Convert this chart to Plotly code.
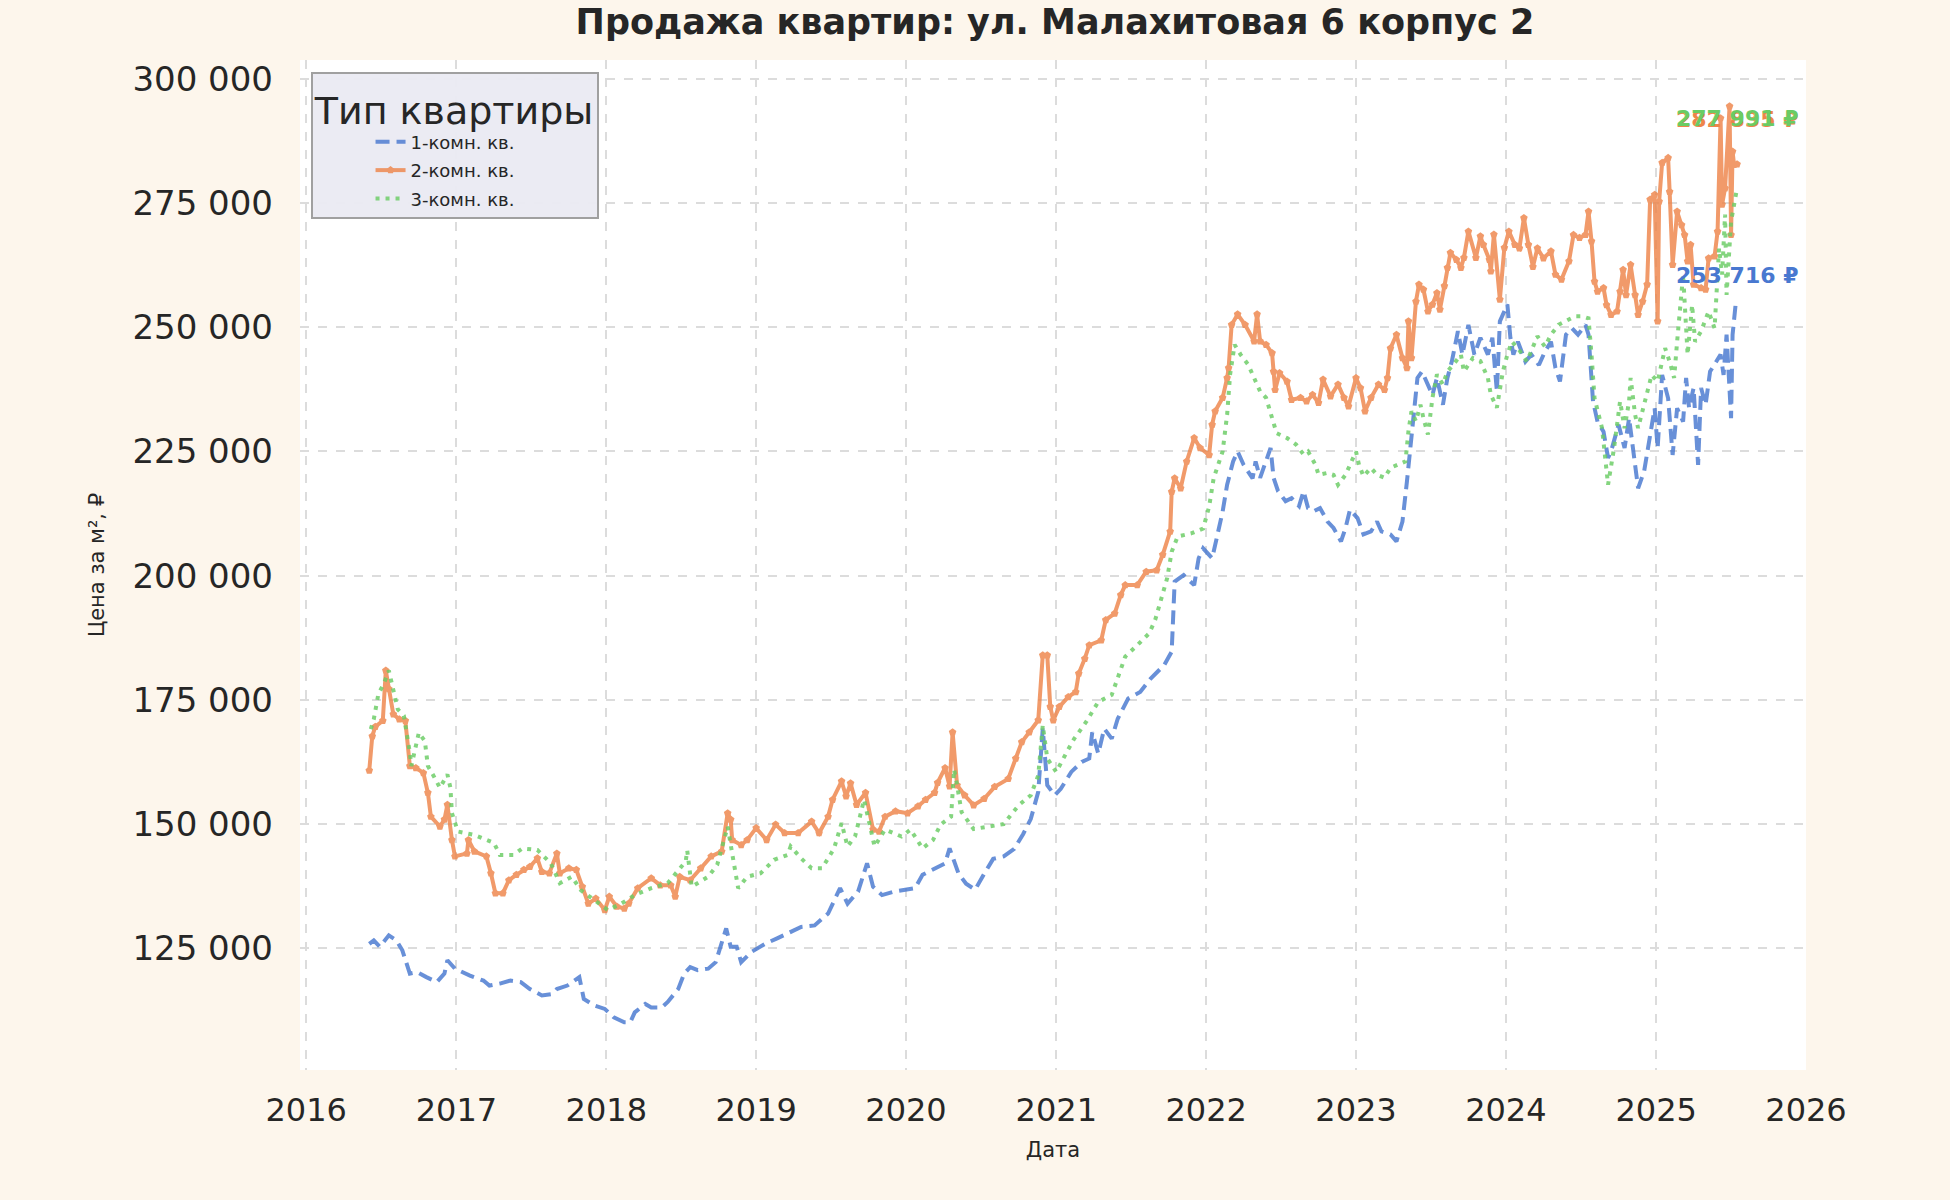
from datetime import datetime
import plotly.graph_objects as go

# Values: decimal year -> price per m2 (thousands of rubles)
years_1k = [2016.42, 2016.45, 2016.49, 2016.52, 2016.55, 2016.60, 2016.64, 2016.69, 2016.74, 2016.80,
            2016.87, 2016.92, 2016.94, 2016.99, 2017.09, 2017.18, 2017.22, 2017.29, 2017.36, 2017.43,
            2017.49, 2017.57, 2017.64, 2017.67, 2017.74, 2017.82, 2017.85, 2017.92, 2017.99, 2018.05,
            2018.12, 2018.16, 2018.19, 2018.26, 2018.30, 2018.37, 2018.41, 2018.48, 2018.52, 2018.56,
            2018.61, 2018.68, 2018.73, 2018.80, 2018.83, 2018.87, 2018.90, 2018.97, 2019.06, 2019.14,
            2019.21, 2019.30, 2019.39, 2019.48, 2019.56, 2019.61, 2019.68, 2019.74, 2019.78, 2019.84,
            2019.92, 2020.00, 2020.06, 2020.11, 2020.18, 2020.26, 2020.29, 2020.35, 2020.40, 2020.46,
            2020.52, 2020.58, 2020.65, 2020.72, 2020.78, 2020.83, 2020.88, 2020.91, 2020.94, 2020.99,
            2021.03, 2021.10, 2021.17, 2021.22, 2021.24, 2021.28, 2021.32, 2021.37, 2021.41, 2021.48,
            2021.56, 2021.63, 2021.72, 2021.77, 2021.79, 2021.85, 2021.92, 2021.95, 2021.98, 2022.04,
            2022.07, 2022.11, 2022.14, 2022.18, 2022.21, 2022.25, 2022.31, 2022.33, 2022.36, 2022.39,
            2022.43, 2022.45, 2022.48, 2022.53, 2022.57, 2022.62, 2022.65, 2022.68, 2022.72, 2022.76,
            2022.81, 2022.85, 2022.90, 2022.93, 2022.96, 2023.01, 2023.05, 2023.10, 2023.14, 2023.17,
            2023.23, 2023.27, 2023.31, 2023.34, 2023.36, 2023.39, 2023.41, 2023.44, 2023.48, 2023.51,
            2023.54, 2023.58, 2023.61, 2023.64, 2023.68, 2023.71, 2023.75, 2023.79, 2023.83, 2023.88,
            2023.91, 2023.94, 2023.96, 2024.01, 2024.03, 2024.05, 2024.08, 2024.13, 2024.17, 2024.22,
            2024.26, 2024.30, 2024.33, 2024.36, 2024.40, 2024.44, 2024.48, 2024.53, 2024.55, 2024.58,
            2024.61, 2024.65, 2024.68, 2024.70, 2024.75, 2024.79, 2024.82, 2024.86, 2024.88, 2024.92,
            2024.96, 2024.99, 2025.01, 2025.04, 2025.08, 2025.11, 2025.14, 2025.18, 2025.20, 2025.22,
            2025.25, 2025.28, 2025.30, 2025.33, 2025.36, 2025.40, 2025.43, 2025.45, 2025.47, 2025.50,
            2025.51, 2025.53, 2025.54]
price_1k = [125.9, 126.6, 125.3, 126.3, 127.6, 126.6, 124.6, 119.9, 120.2, 119.2,
            118.2, 119.9, 122.6, 120.9, 119.5, 118.5, 117.5, 117.9, 118.5, 118.2,
            116.8, 115.5, 115.8, 116.8, 117.5, 119.2, 114.8, 113.5, 112.8, 111.1,
            110.1, 110.1, 112.1, 113.8, 113.1, 113.1, 114.2, 116.8, 119.9, 121.2,
            120.6, 120.9, 122.2, 129.0, 125.3, 125.3, 122.2, 124.3, 125.9, 127.0,
            128.0, 129.3, 129.6, 132.0, 137.1, 134.0, 136.4, 142.1, 137.4, 135.7,
            136.4, 136.7, 137.1, 139.8, 140.8, 142.1, 145.1, 140.0, 138.0, 136.8,
            140.0, 143.0, 143.5, 145.0, 148.0, 151.0, 156.5, 169.2, 157.8, 155.8,
            157.1, 160.5, 162.5, 163.2, 168.5, 164.2, 169.2, 167.2, 171.2, 175.3,
            176.6, 179.3, 182.0, 184.7, 198.8, 200.1, 198.1, 203.5, 205.5, 203.5,
            207.5, 212.9, 218.3, 223.0, 225.0, 222.3, 219.6, 223.0, 219.7, 222.3,
            225.7, 219.7, 217.0, 215.0, 215.6, 214.0, 217.0, 213.6, 213.0, 213.6,
            210.9, 209.6, 206.9, 209.6, 213.3, 211.6, 208.3, 208.9, 210.9, 208.9,
            208.3, 206.9, 210.9, 219.0, 225.0, 232.4, 239.8, 241.1, 238.5, 236.4,
            239.8, 234.4, 239.8, 243.2, 249.2, 244.5, 250.5, 244.5, 247.9, 244.5,
            247.9, 237.1, 251.2, 254.6, 247.9, 244.5, 247.1, 243.1, 244.5, 242.4,
            245.1, 247.1, 241.8, 239.1, 248.5, 249.8, 248.5, 250.5, 248.5, 235.1,
            231.0, 229.0, 223.7, 225.0, 230.4, 225.7, 231.7, 221.6, 217.6, 221.0,
            229.0, 233.7, 225.7, 240.4, 235.7, 224.3, 233.7, 231.0, 239.8, 233.7,
            237.8, 222.3, 237.8, 234.4, 241.1, 243.1, 244.5, 240.4, 248.5, 231.7,
            248.5, 254.5, 253.716]

years_2k = [2016.42, 2016.44, 2016.46, 2016.51, 2016.53, 2016.55, 2016.58, 2016.62, 2016.66, 2016.69,
            2016.73, 2016.78, 2016.81, 2016.83, 2016.89, 2016.92, 2016.94, 2016.97, 2016.99, 2017.07,
            2017.08, 2017.12, 2017.20, 2017.23, 2017.26, 2017.31, 2017.35, 2017.40, 2017.45, 2017.49,
            2017.54, 2017.57, 2017.62, 2017.67, 2017.69, 2017.75, 2017.80, 2017.84, 2017.88, 2017.93,
            2017.99, 2018.02, 2018.07, 2018.12, 2018.15, 2018.21, 2018.30, 2018.36, 2018.43, 2018.46,
            2018.49, 2018.56, 2018.63, 2018.70, 2018.77, 2018.81, 2018.83, 2018.84, 2018.90, 2018.94,
            2019.00, 2019.07, 2019.13, 2019.19, 2019.28, 2019.37, 2019.42, 2019.48, 2019.51, 2019.57,
            2019.60, 2019.63, 2019.67, 2019.73, 2019.78, 2019.82, 2019.86, 2019.93, 2020.01, 2020.08,
            2020.13, 2020.19, 2020.21, 2020.26, 2020.29, 2020.31, 2020.34, 2020.39, 2020.45, 2020.52,
            2020.59, 2020.68, 2020.73, 2020.77, 2020.82, 2020.88, 2020.91, 2020.94, 2020.96, 2020.98,
            2021.02, 2021.08, 2021.13, 2021.15, 2021.19, 2021.22, 2021.30, 2021.33, 2021.39, 2021.43,
            2021.46, 2021.54, 2021.60, 2021.67, 2021.71, 2021.76, 2021.77, 2021.79, 2021.83, 2021.87,
            2021.92, 2021.96, 2022.02, 2022.04, 2022.06, 2022.11, 2022.14, 2022.15, 2022.17, 2022.21,
            2022.26, 2022.32, 2022.34, 2022.36, 2022.40, 2022.44, 2022.45, 2022.46, 2022.49, 2022.54,
            2022.57, 2022.63, 2022.67, 2022.71, 2022.75, 2022.78, 2022.83, 2022.88, 2022.92, 2022.95,
            2023.00, 2023.03, 2023.06, 2023.10, 2023.15, 2023.19, 2023.21, 2023.23, 2023.27, 2023.31,
            2023.34, 2023.35, 2023.37, 2023.40, 2023.42, 2023.45, 2023.48, 2023.51, 2023.54, 2023.56,
            2023.59, 2023.61, 2023.63, 2023.67, 2023.70, 2023.72, 2023.75, 2023.80, 2023.83, 2023.85,
            2023.89, 2023.90, 2023.92, 2023.96, 2023.99, 2024.02, 2024.06, 2024.09, 2024.12, 2024.15,
            2024.18, 2024.21, 2024.25, 2024.30, 2024.33, 2024.37, 2024.42, 2024.45, 2024.49, 2024.53,
            2024.55, 2024.57, 2024.59, 2024.61, 2024.65, 2024.67, 2024.70, 2024.74, 2024.76, 2024.78,
            2024.80, 2024.83, 2024.86, 2024.88, 2024.91, 2024.94, 2024.96, 2024.99, 2025.01, 2025.02,
            2025.04, 2025.08, 2025.09, 2025.11, 2025.14, 2025.17, 2025.19, 2025.21, 2025.23, 2025.25,
            2025.30, 2025.33, 2025.35, 2025.39, 2025.41, 2025.43, 2025.44, 2025.46, 2025.49, 2025.50,
            2025.51, 2025.52, 2025.54]
price_2k = [160.8, 167.7, 169.6, 170.8, 180.9, 177.2, 172.1, 171.1, 170.8, 161.7,
            161.3, 160.3, 156.3, 151.5, 149.5, 150.9, 153.9, 146.8, 143.5, 144.1,
            146.8, 144.5, 143.5, 140.1, 136.1, 136.1, 138.7, 139.8, 140.8, 141.4,
            143.1, 140.4, 140.1, 144.1, 140.1, 141.1, 140.8, 137.4, 134.0, 135.0,
            132.7, 135.4, 133.4, 133.0, 134.0, 137.1, 139.1, 137.7, 137.7, 135.4,
            139.4, 138.7, 141.1, 143.5, 144.5, 152.2, 150.9, 146.8, 145.8, 146.8,
            149.2, 146.8, 149.9, 148.2, 148.2, 150.5, 148.2, 151.5, 154.9, 158.6,
            155.6, 158.2, 153.9, 156.3, 148.9, 148.5, 151.5, 152.6, 152.2, 153.6,
            154.9, 156.3, 158.3, 161.3, 157.6, 168.5, 157.8, 155.8, 153.8, 155.1,
            157.5, 159.1, 163.2, 166.5, 168.5, 170.9, 184.0, 184.0, 173.6, 170.9,
            173.6, 175.6, 176.6, 180.3, 183.3, 186.0, 187.0, 191.1, 192.4, 196.1,
            198.1, 198.1, 200.8, 201.1, 204.2, 208.9, 216.9, 219.6, 217.6, 223.0,
            227.7, 225.7, 224.3, 230.4, 233.1, 235.8, 239.8, 241.8, 250.5, 252.6,
            250.5, 247.2, 252.6, 247.2, 246.5, 244.8, 241.1, 237.4, 240.8, 239.1,
            235.4, 235.8, 235.1, 236.4, 234.8, 239.5, 236.1, 238.5, 235.8, 234.1,
            239.8, 237.8, 233.1, 235.8, 238.5, 237.4, 239.8, 245.8, 248.5, 243.8,
            241.8, 251.2, 243.8, 255.2, 258.6, 257.6, 253.2, 254.6, 256.9, 253.6,
            258.3, 262.0, 265.0, 263.6, 262.0, 264.0, 269.3, 264.0, 268.3, 266.6,
            263.6, 261.3, 268.7, 255.6, 266.0, 269.3, 266.6, 265.9, 272.0, 266.6,
            262.2, 265.9, 263.9, 265.3, 260.6, 259.6, 263.3, 268.6, 268.0, 268.6,
            273.3, 267.3, 259.2, 257.2, 257.9, 254.5, 252.5, 253.2, 257.2, 261.6,
            256.5, 262.6, 256.5, 252.5, 255.2, 258.6, 275.7, 276.7, 251.2, 275.3,
            283.1, 284.1, 277.3, 262.6, 273.3, 270.6, 268.6, 263.3, 266.6, 258.6,
            257.9, 257.6, 263.9, 264.3, 269.3, 292.1, 274.7, 278.0, 294.5, 268.6,
            285.4, 282.7, 282.835]

years_3k = [2016.43, 2016.45, 2016.48, 2016.52, 2016.55, 2016.59, 2016.61, 2016.65, 2016.68, 2016.69,
            2016.70, 2016.75, 2016.79, 2016.80, 2016.81, 2016.85, 2016.89, 2016.94, 2016.96, 2016.97,
            2017.01, 2017.12, 2017.25, 2017.29, 2017.38, 2017.44, 2017.54, 2017.63, 2017.69, 2017.77,
            2017.83, 2017.92, 2018.01, 2018.10, 2018.19, 2018.30, 2018.41, 2018.53, 2018.54, 2018.57,
            2018.68, 2018.74, 2018.81, 2018.84, 2018.88, 2018.94, 2019.03, 2019.12, 2019.21, 2019.23,
            2019.30, 2019.37, 2019.44, 2019.52, 2019.57, 2019.61, 2019.66, 2019.72, 2019.77, 2019.79,
            2019.86, 2019.97, 2020.03, 2020.11, 2020.18, 2020.23, 2020.30, 2020.32, 2020.34, 2020.37,
            2020.45, 2020.55, 2020.65, 2020.75, 2020.83, 2020.88, 2020.91, 2020.94, 2021.00, 2021.07,
            2021.12, 2021.20, 2021.28, 2021.37, 2021.43, 2021.46, 2021.54, 2021.62, 2021.66, 2021.70,
            2021.74, 2021.77, 2021.81, 2021.90, 2021.98, 2022.02, 2022.05, 2022.08, 2022.11, 2022.14,
            2022.16, 2022.19, 2022.23, 2022.28, 2022.32, 2022.36, 2022.40, 2022.44, 2022.47, 2022.54,
            2022.60, 2022.65, 2022.68, 2022.73, 2022.75, 2022.81, 2022.85, 2022.88, 2022.93, 2023.00,
            2023.02, 2023.05, 2023.10, 2023.14, 2023.19, 2023.23, 2023.27, 2023.33, 2023.35, 2023.37,
            2023.40, 2023.43, 2023.45, 2023.48, 2023.51, 2023.54, 2023.58, 2023.61, 2023.65, 2023.70,
            2023.72, 2023.78, 2023.83, 2023.88, 2023.90, 2023.94, 2023.98, 2024.01, 2024.04, 2024.08,
            2024.14, 2024.21, 2024.26, 2024.30, 2024.35, 2024.40, 2024.46, 2024.51, 2024.55, 2024.57,
            2024.59, 2024.64, 2024.67, 2024.68, 2024.72, 2024.76, 2024.79, 2024.82, 2024.83, 2024.86,
            2024.88, 2024.92, 2024.97, 2025.01, 2025.06, 2025.09, 2025.12, 2025.14, 2025.17, 2025.18,
            2025.21, 2025.24, 2025.26, 2025.30, 2025.35, 2025.39, 2025.42, 2025.44, 2025.46, 2025.47,
            2025.50, 2025.54]
price_3k = [169.1, 171.1, 176.1, 178.5, 180.9, 175.8, 173.1, 171.8, 167.0, 164.4,
            161.7, 168.4, 166.7, 164.4, 161.7, 159.6, 157.3, 160.0, 157.3, 152.2,
            148.5, 147.8, 146.2, 143.8, 143.8, 145.1, 144.8, 142.1, 138.1, 139.4,
            136.7, 134.7, 132.7, 134.0, 135.7, 137.1, 138.1, 142.5, 144.7, 137.4,
            139.4, 141.8, 149.5, 144.1, 137.1, 139.4, 140.1, 142.8, 143.8, 145.5,
            143.1, 141.1, 141.1, 145.1, 150.2, 145.5, 147.5, 154.9, 147.5, 145.5,
            148.9, 147.5, 148.9, 145.1, 146.8, 149.9, 151.5, 161.0, 157.8, 152.4,
            149.0, 149.5, 150.0, 153.8, 155.8, 159.8, 169.9, 163.2, 160.5, 164.5,
            167.2, 170.6, 174.6, 176.0, 181.3, 183.7, 186.0, 188.4, 191.1, 195.4,
            199.5, 204.8, 207.9, 208.5, 209.5, 213.9, 219.6, 222.3, 225.0, 232.4,
            240.5, 246.5, 244.5, 242.5, 239.8, 237.1, 235.8, 231.7, 228.7, 227.7,
            226.4, 224.4, 225.0, 222.3, 220.3, 220.7, 220.3, 218.3, 220.3, 225.0,
            222.3, 220.0, 221.7, 220.3, 219.7, 221.7, 222.3, 223.0, 229.1, 233.1,
            231.1, 234.4, 231.7, 228.4, 235.8, 240.5, 238.5, 241.1, 242.5, 244.5,
            241.1, 243.8, 243.2, 239.8, 236.4, 233.8, 241.1, 244.5, 247.1, 245.8,
            243.1, 248.2, 246.1, 248.5, 250.5, 251.2, 252.2, 252.2, 251.8, 244.5,
            235.7, 229.7, 222.3, 218.3, 225.7, 235.1, 229.7, 235.1, 239.8, 232.4,
            229.7, 234.4, 240.4, 239.1, 245.8, 243.1, 239.8, 247.1, 256.5, 260.6,
            244.5, 254.5, 247.1, 249.2, 253.2, 249.8, 265.9, 260.6, 272.7, 256.5,
            271.3, 277.991]

series_names = ["1-комн. кв.", "2-комн. кв.", "3-комн. кв."]


def to_dates(years):
    out = []
    for y in years:
        yr = int(y)
        start = datetime(yr, 1, 1)
        out.append(start + (datetime(yr + 1, 1, 1) - start) * (y - yr))
    return out


def fmt_rub(v):
    return f"{round(v):,}".replace(",", " ") + " ₽"


series = [
    (years_1k, price_1k, "#4878d0", dict(width=4, dash="14px,7px"), None, 33),
    (years_2k, price_2k, "#ee854a", dict(width=4), dict(symbol="pentagon", size=8), 45),
    (years_3k, price_3k, "#6acc64", dict(width=4, dash="4px,6px"), None, 70),
]

fig = go.Figure()
for i, ((yrs, vals, color, line, marker, shift), name) in enumerate(zip(series, series_names)):
    x = to_dates(yrs)
    y = [v * 1000 for v in vals]
    fig.add_trace(go.Scatter(
        x=x, y=y, name=name, legendgroup=str(i),
        mode="lines+markers" if marker else "lines",
        line=dict(color=color, **line),
        marker=dict(color=color, **marker) if marker else None,
        opacity=0.82,
    ))
    fig.add_annotation(
        x=x[-1], y=y[-1], text=f"<b>{fmt_rub(y[-1])}</b>", showarrow=False,
        yshift=shift, font=dict(size=22, color=color, family="DejaVu Sans"),
    )

fig.update_layout(
    width=1950, height=1200,
    margin=dict(l=300, r=144, t=60, b=130),
    paper_bgcolor="#fdf6ec",
    plot_bgcolor="white",
    font=dict(family="DejaVu Sans", color="#262626"),
    separators=". ",
    title=dict(text="<b>Продажа квартир: ул. Малахитовая 6 корпус 2</b>",
               x=0.541, xanchor="center", y=0.982, yanchor="middle",
               font=dict(size=35, color="#262626")),
    legend=dict(
        title=dict(text="Тип квартиры", font=dict(size=38), side="top center"),
        font=dict(size=18),
        x=0.007, y=0.988, xanchor="left", yanchor="top",
        indentation=58, tracegroupgap=2,
        bgcolor="rgba(234,234,242,0.95)", bordercolor="#a0a0a0", borderwidth=2,
    ),
)
fig.update_xaxes(
    range=[datetime(2015, 12, 17), datetime(2026, 1, 1)],
    dtick="M12", tickformat="%Y", tick0="2016-01-01",
    showgrid=True, gridcolor="#dcdcdc", griddash="dash", gridwidth=2,
    zeroline=False, showline=False,
    tickfont=dict(size=32), ticklabelstandoff=18,
    title=dict(text="Дата", font=dict(size=21), standoff=14),
)
fig.update_yaxes(
    range=[100500, 303800],
    dtick=25000, tick0=0, tickformat=",d",
    showgrid=True, gridcolor="#dcdcdc", griddash="dash", gridwidth=2,
    zeroline=False, showline=False,
    tickfont=dict(size=34), ticklabelstandoff=26,
    title=dict(text="Цена за м², ₽", font=dict(size=21), standoff=22),
)

fig.write_html("out.html", config={"displayModeBar": False}, post_script=(
    "document.body.style.margin='0';"
    "document.body.style.background='#fdf6ec';"
))
